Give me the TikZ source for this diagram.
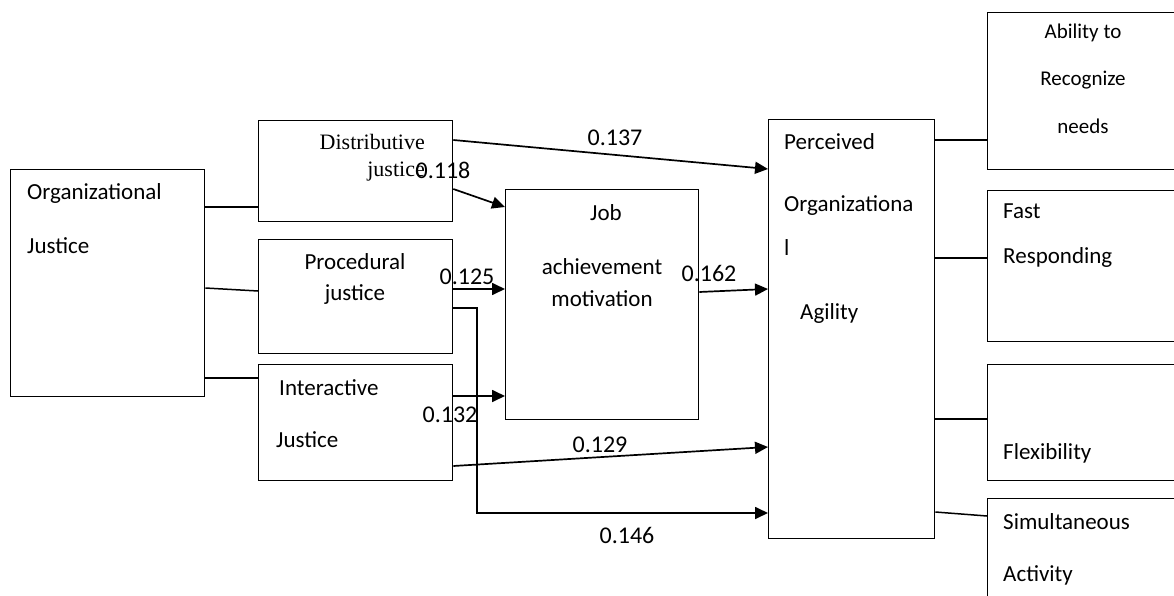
\documentclass[tikz,border=0pt]{standalone}
\usepackage{fontspec}
\setmainfont{Carlito}
\newfontfamily\timesf{Liberation Serif}
\usetikzlibrary{arrows.meta}
\begin{document}
\begin{tikzpicture}[x=1pt,y=-1pt,
  box/.style={draw, line width=1.3pt, anchor=north west, inner sep=0pt, minimum width=#1},
  lnk/.style={line width=1.5pt},
  arr/.style={line width=1.7pt, -{Triangle[length=13pt,width=12pt]}},
  txt/.style={inner sep=0pt, font=\fontsize{23}{27}\selectfont},
  stxt/.style={inner sep=0pt, font=\fontsize{21}{25}\selectfont},
  num/.style={inner sep=0pt, font=\fontsize{24}{28}\selectfont}]
\useasboundingbox (0,0) rectangle (1174,596);
\clip (0,0) rectangle (1174,596);
% boxes
\node[box=194pt, minimum height=227pt] (OJ) at (10,169) {};
\node[box=194pt, minimum height=101pt] (Dist) at (258,120) {};
\node[box=194pt, minimum height=114pt] (Proc) at (258,239) {};
\node[box=194pt, minimum height=116pt] (Int) at (258,364) {};
\node[box=193pt, minimum height=230pt] (Job) at (505,189) {};
\node[box=166pt, minimum height=419pt] (Perc) at (768,119) {};
\node[box=210pt, minimum height=157pt] (Abil) at (987,12) {};
\node[box=210pt, minimum height=151pt] (Fast) at (987,190) {};
\node[box=210pt, minimum height=116pt] (Flex) at (987,364) {};
\node[box=210pt, minimum height=130pt] (Sim) at (987,498) {};
% texts
\node[txt, anchor=west] (t1) at (27,193) {Organizational};
\node[txt, anchor=west] (t2) at (27,246) {Justice};
\node[inner sep=0pt, font=\timesf\fontsize{22}{26}\selectfont, anchor=east] (t3) at (425,142) {Distributive};
\node[inner sep=0pt, font=\timesf\fontsize{22}{26}\selectfont, anchor=east] (t4) at (425,172) {justice};
\node[txt] (t5) at (355,262) {Procedural};
\node[txt] (t6) at (355,295) {justice};
\node[txt, anchor=west] (t7) at (279,388) {Interactive};
\node[txt, anchor=west] (t8) at (276,440) {Justice};
\node[txt] (t9) at (606,213) {Job};
\node[txt] (t10) at (602,267) {achievement};
\node[txt] (t11) at (602,299) {motivation};
\node[txt, anchor=west] (t12) at (784,142) {Perceived};
\node[txt, anchor=west] (t13) at (784,206) {Organizationa};
\node[txt, anchor=west] (t14) at (784,248) {l};
\node[txt, anchor=west] (t15) at (800,313) {Agility};
\node[stxt] (t16) at (1083,33) {Ability to};
\node[stxt] (t17) at (1083,80) {Recognize};
\node[stxt] (t18) at (1083,126) {needs};
\node[txt, anchor=west] (t19) at (1003,211) {Fast};
\node[txt, anchor=west] (t20) at (1003,257) {Responding};
\node[txt, anchor=west] (t21) at (1003,453) {Flexibility};
\node[txt, anchor=west] (t22) at (1003,522) {Simultaneous};
\node[txt, anchor=west] (t23) at (1003,575) {Activity};
% plain links
\draw[lnk] ([yshift=-38pt]OJ.north east) -- ([yshift=-87pt]Dist.north west);
\draw[lnk] ([yshift=-119pt]OJ.north east) -- ([yshift=-52pt]Proc.north west);
\draw[lnk] ([yshift=-209pt]OJ.north east) -- ([yshift=-14pt]Int.north west);
\draw[lnk] ([yshift=-21pt]Perc.north east) -- ([yshift=-128pt]Abil.north west);
\draw[lnk] ([yshift=-139pt]Perc.north east) -- ([yshift=-68pt]Fast.north west);
\draw[lnk] ([yshift=-300pt]Perc.north east) -- ([yshift=-55pt]Flex.north west);
\draw[lnk] ([yshift=-393pt]Perc.north east) -- ([yshift=-18pt]Sim.north west);
% arrows
\draw[arr] ([yshift=-20pt]Dist.north east) -- ([yshift=-50pt]Perc.north west);
\draw[arr] ([yshift=-69pt]Dist.north east) -- ([yshift=-18pt]Job.north west);
\draw[arr] ([yshift=-50pt]Proc.north east) -- ([yshift=-100pt]Job.north west);
\draw[arr] ([yshift=-103pt]Job.north east) -- ([yshift=-170pt]Perc.north west);
\coordinate (bend) at (477,513);
\draw[arr] ([yshift=-69pt]Proc.north east) -| (bend) -- ([yshift=-394pt]Perc.north west);
\draw[arr] ([yshift=-32pt]Int.north east) -- ([yshift=-207pt]Job.north west);
\draw[arr] ([yshift=-102pt]Int.north east) -- ([yshift=-328pt]Perc.north west);
% numbers
\node[num] (n1) at (615,138) {0.137};
\node[num] (n2) at (443,170) {0.118};
\node[num] (n3) at (467,277) {0.125};
\node[num] (n4) at (709,273) {0.162};
\node[num] (n5) at (450,415) {0.132};
\node[num] (n6) at (600,445) {0.129};
\node[num] (n7) at (627,535) {0.146};
\end{tikzpicture}
\end{document}
